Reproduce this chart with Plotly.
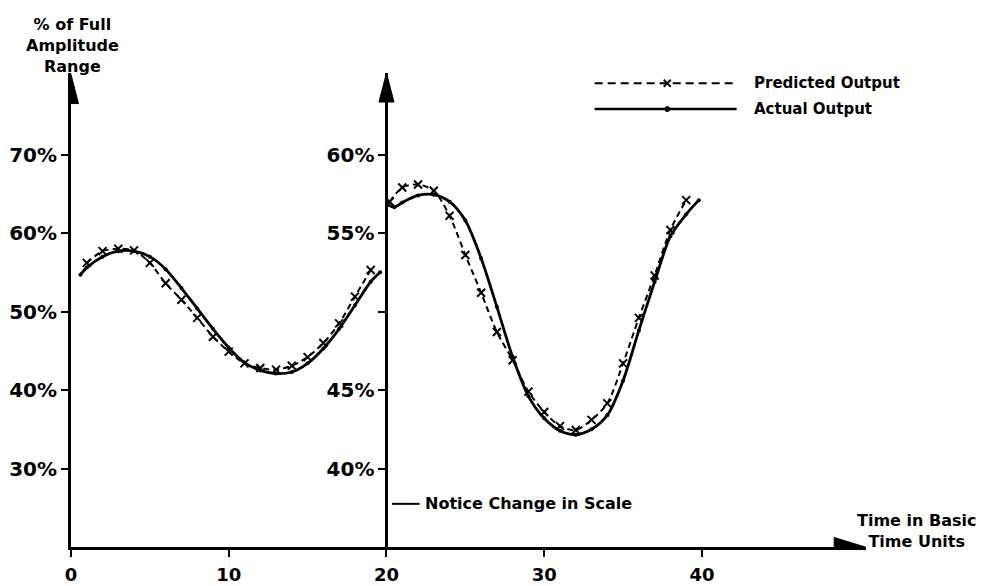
import plotly.graph_objects as go

# ---------------- data ----------------
t_left_pred = [1, 2, 3, 4, 5, 6, 7, 8, 9, 10, 11, 12, 13, 14, 15, 16, 17, 18, 19]
left_pred = [56.2, 57.7, 58.0, 57.8, 56.2, 53.6, 51.5, 49.2, 46.8, 44.9,
             43.4, 42.8, 42.6, 43.1, 44.2, 46.0, 48.5, 51.9, 55.3]

t_left_act = [0.6, 1, 2, 3, 4, 5, 6, 7, 8, 9, 10, 11, 12, 13, 14, 15, 16, 17, 18, 19, 19.6]
left_act = [54.7, 55.6, 57.0, 57.7, 57.7, 57.0, 55.4, 53.0, 50.4, 47.8, 45.4,
            43.5, 42.5, 42.1, 42.3, 43.4, 45.3, 47.8, 50.8, 53.8, 55.0]

t_right_pred = [20.2, 21, 22, 23, 24, 25, 26, 27, 28, 29, 30, 31, 32, 33, 34, 35, 36, 37, 38, 39]
right_pred = [57.0, 57.9, 58.1, 57.7, 56.1, 53.6, 51.2, 48.7, 46.9, 44.9,
              43.6, 42.7, 42.45, 43.1, 44.15, 46.7, 49.6, 52.3, 55.2, 57.1]

t_right_act = [20.1, 20.5, 21, 22, 23, 24, 25, 26, 27, 28, 29, 30, 31, 32, 33, 34,
               35, 36, 37, 38, 39, 39.8]
right_act = [56.8, 56.65, 56.95, 57.4, 57.45, 57.0, 55.8, 53.4, 50.3, 47.1, 44.6,
             43.2, 42.4, 42.15, 42.5, 43.4, 45.6, 48.8, 51.9, 54.8, 56.2, 57.1]

x_ticks = [0, 10, 20, 30, 40]
x_tick_labels = ["0", "10", "20", "30", "40"]
left_ticks = [30, 40, 50, 60, 70]
left_tick_labels = ["30%", "40%", "50%", "60%", "70%"]
right_ticks = [40, 45, 50, 55, 60]
right_tick_labels = ["40%", "45%", "", "55%", "60%"]

legend_names = ["Predicted Output", "Actual Output"]

# ---------------- layout constants ----------------
X_RANGE = [0, 50.4]
YL_RANGE = [20, 80.4]
YR_RANGE = [35, 65.2]
SPLIT = 20
FONT = "DejaVu Sans"
BLACK = "#000000"
BODY = 8  # default page margin of the html body

fig = go.Figure()

pred_line = dict(color=BLACK, width=2, dash="6px,4px", shape="spline", smoothing=0.8)
act_line = dict(color=BLACK, width=2.8, shape="spline", smoothing=0.8)
pred_marker = dict(symbol="x-thin", size=8, line=dict(width=2, color=BLACK), color=BLACK)
act_marker = dict(symbol="circle", size=4, color=BLACK)

fig.add_trace(go.Scatter(x=t_left_pred, y=left_pred, mode="lines+markers",
                         line=pred_line, marker=pred_marker, name=legend_names[0],
                         showlegend=False))
fig.add_trace(go.Scatter(x=t_left_act, y=left_act, mode="lines+markers",
                         line=act_line, marker=act_marker, name=legend_names[1],
                         showlegend=False))
fig.add_trace(go.Scatter(x=t_right_pred, y=right_pred, mode="lines+markers", yaxis="y2",
                         line=pred_line, marker=pred_marker, name=legend_names[0],
                         showlegend=False))
fig.add_trace(go.Scatter(x=t_right_act, y=right_act, mode="lines+markers", yaxis="y2",
                         line=act_line, marker=act_marker, name=legend_names[1],
                         showlegend=False))

tickfont = dict(family=FONT, size=20, color=BLACK, weight="bold")
xtickfont = dict(family=FONT, size=18, color=BLACK, weight="bold")
split_pos = (SPLIT - X_RANGE[0]) / (X_RANGE[1] - X_RANGE[0])

common_y = dict(showgrid=False, zeroline=False, ticklen=7, tickwidth=2, tickcolor=BLACK,
                linecolor=BLACK, linewidth=3, tickfont=tickfont, automargin=False)
overlay_common = dict(showgrid=False, zeroline=False, showline=False, ticks="inside",
                      ticklen=7, tickwidth=2, tickcolor=BLACK, showticklabels=False,
                      automargin=False)

fig.update_layout(
    width=985 - BODY, height=586 - BODY,
    margin=dict(l=71 - BODY, r=119, t=73 - BODY, b=39),
    paper_bgcolor="white", plot_bgcolor="white",
    showlegend=False,
    xaxis=dict(range=X_RANGE, showgrid=False, zeroline=False, showline=True,
               linecolor=BLACK, linewidth=3, ticks="outside", ticklen=7, tickwidth=2,
               tickcolor=BLACK, tickvals=x_ticks, ticktext=x_tick_labels,
               tickfont=xtickfont, ticklabelstandoff=2, anchor="y", automargin=False),
    xaxis2=dict(range=X_RANGE, overlaying="x", anchor="y", tickvals=x_ticks[1:],
                **overlay_common),
    yaxis=dict(range=YL_RANGE, showline=True, ticks="outside", tickvals=left_ticks,
               ticktext=left_tick_labels, anchor="x", **common_y),
    yaxis3=dict(range=YL_RANGE, overlaying="y", anchor="x", tickvals=left_ticks,
                **overlay_common),
    yaxis2=dict(range=YR_RANGE, overlaying="y", anchor="free", position=split_pos, side="left",
                showline=True, ticks="outside", tickvals=right_ticks,
                ticktext=right_tick_labels, **common_y),
    yaxis4=dict(range=YR_RANGE, overlaying="y", anchor="free", position=split_pos, side="left",
                tickvals=right_ticks, **overlay_common),
)

# arrowheads on the axes (pixel-sized, anchored at axis ends)
fig.add_shape(type="path", xref="x", yref="y", xsizemode="pixel", ysizemode="pixel",
              xanchor=X_RANGE[1] - 0.05, yanchor=YL_RANGE[0],
              path="M0,0 L-31,-9.5 L-31,9.5 Z", fillcolor=BLACK, line=dict(color=BLACK, width=1))
fig.add_shape(type="path", xref="x", yref="y", xsizemode="pixel", ysizemode="pixel",
              xanchor=0, yanchor=YL_RANGE[1] - 0.2,
              path="M0,0 L-7.5,-29 L7.5,-29 Z", fillcolor=BLACK, line=dict(color=BLACK, width=1))
fig.add_shape(type="path", xref="x", yref="y2", xsizemode="pixel", ysizemode="pixel",
              xanchor=SPLIT, yanchor=YR_RANGE[1],
              path="M0,0 L-7.5,-29 L7.5,-29 Z", fillcolor=BLACK, line=dict(color=BLACK, width=1))

# legend drawn to match the original long samples
leg_x0, leg_x1, leg_mid, leg_text = 33.2, 42.2, 37.8, 43.2
leg_y = [79.1, 75.8]
fig.add_shape(type="line", xref="x", yref="y", x0=leg_x0, x1=leg_x1, y0=leg_y[0], y1=leg_y[0],
              line=dict(color=BLACK, width=2, dash="8px,5px"))
fig.add_shape(type="path", xref="x", yref="y", xsizemode="pixel", ysizemode="pixel",
              xanchor=leg_mid, yanchor=leg_y[0], path="M-3.5,-3.5 L3.5,3.5 M-3.5,3.5 L3.5,-3.5",
              line=dict(color=BLACK, width=2))
fig.add_shape(type="line", xref="x", yref="y", x0=leg_x0, x1=leg_x1, y0=leg_y[1], y1=leg_y[1],
              line=dict(color=BLACK, width=2.5))
fig.add_shape(type="circle", xref="x", yref="y", xsizemode="pixel", ysizemode="pixel",
              xanchor=leg_mid, yanchor=leg_y[1], x0=-2.5, x1=2.5, y0=-2.5, y1=2.5,
              fillcolor=BLACK, line=dict(color=BLACK, width=1))
for name, yy in zip(legend_names, leg_y):
    fig.add_annotation(x=leg_text, y=yy, xref="x", yref="y", text=name, showarrow=False,
                       xanchor="left", yanchor="middle",
                       font=dict(family=FONT, size=15, color=BLACK, weight="bold"))

# "Notice Change in Scale" leader and text
fig.add_shape(type="line", xref="x", yref="y", x0=20.35, x1=22.1, y0=25.5, y1=25.5,
              line=dict(color=BLACK, width=2))
fig.add_annotation(x=22.3, y=25.5, xref="x", yref="y", text="Notice Change in Scale",
                   showarrow=False, xanchor="left", yanchor="middle",
                   font=dict(family=FONT, size=16, color=BLACK, weight="bold"))

# axis titles
fig.add_annotation(x=0.0016, y=1.059, xref="paper", yref="paper",
                   text="% of Full<br>Amplitude<br>Range", showarrow=False,
                   xanchor="center", yanchor="middle", align="center",
                   font=dict(family=FONT, size=16, color=BLACK, weight="bold"))
fig.add_annotation(x=1.064, y=0.034, xref="paper", yref="paper",
                   text="Time in Basic<br>Time Units", showarrow=False,
                   xanchor="center", yanchor="middle", align="center",
                   font=dict(family=FONT, size=16, color=BLACK, weight="bold"))

fig.write_html("out.html")
